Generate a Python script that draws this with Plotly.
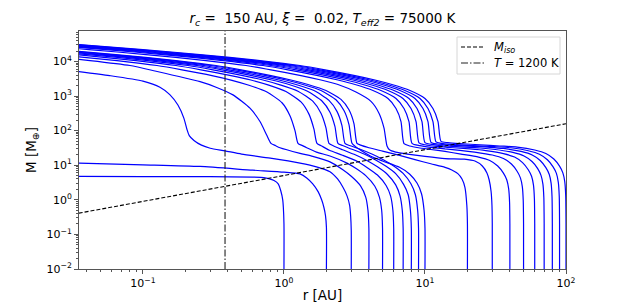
import plotly.graph_objects as go

# ---------------- data ----------------
# Tracks for starting radii r0 = 1..10, 20..100 AU: radius r [AU] and mass M [M_earth]
r_1 = [1.0, 1.0, 0.99, 0.98, 0.95, 0.91, 0.85, 0.78, 0.72, 0.6, 0.3, 0.1, 0.035]
m_1 = [0.01, 0.2, 0.6, 1.0, 1.8, 2.9, 3.6, 4.1, 4.4, 4.55, 4.65, 4.7, 4.75]

r_2 = [2.0, 2.0, 1.97, 1.92, 1.85, 1.75, 1.6, 1.45, 1.3, 1.0, 0.6, 0.254, 0.1, 0.035]
m_2 = [0.01, 0.16, 0.35, 0.6, 1.0, 1.7, 2.9, 4.3, 5.6, 6.3, 7.2, 9.2, 10.3, 11.5]

r_3 = [3.0, 3.0, 2.97, 2.92, 2.8, 2.62, 2.4, 2.12, 1.7, 1.3, 0.8, 0.5, 0.382, 0.3, 0.26, 0.23,
       0.213, 0.205, 0.195, 0.177, 0.155, 0.132, 0.1, 0.058, 0.035]
m_3 = [0.01, 0.13, 0.35, 0.7, 1.3, 2.3, 4.0, 6.5, 9.0, 11.5, 16, 21, 26, 31, 38, 52,
       72, 110, 230, 550, 1100, 1800, 2700, 3900, 5100]

r_4 = [4, 4, 3.94, 3.8, 3.5, 3.0, 2.6, 2.12, 1.6, 1.3, 0.937, 0.87, 0.809,
       0.754, 0.676, 0.574, 0.435, 0.33, 0.254, 0.1217, 0.0809, 0.0421, 0.0158]
m_4 = [0.01, 0.15, 0.5, 1.2, 2.5, 4.8, 7.5, 12.5, 18, 22, 32, 37, 43,
       75, 183, 445, 1080, 1800, 2600, 5300, 7620, 10600, 15800]

r_5 = [5, 5, 4.93, 4.75, 4.4, 3.8, 3.25, 2.8, 2.12, 1.7, 1.45, 1.35, 1.257,
       1.197, 1.103, 0.968, 0.7576, 0.5648, 0.4277, 0.3085, 0.189, 0.1257, 0.0654, 0.0245]
m_5 = [0.01, 0.15, 0.5, 1.2, 2.5, 5, 8, 11.5, 18.5, 24, 32, 37, 43,
       100, 270, 640, 1300, 2050, 2850, 3900, 5720, 7620, 10600, 15800]

r_6 = [6, 6, 5.92, 5.7, 5.3, 4.6, 3.9, 3.3, 2.6, 2.1, 1.85, 1.714,
       1.632, 1.504, 1.32, 1.033, 0.770, 0.5834, 0.421, 0.2578, 0.1714, 0.0892, 0.03348]
m_6 = [0.01, 0.15, 0.5, 1.3, 2.6, 5.2, 8.5, 13, 19.5, 27, 36, 43,
       110, 300, 680, 1350, 2100, 2900, 3900, 5720, 7620, 10600, 15800]

r_7 = [7, 7, 6.9, 6.65, 6.2, 5.4, 4.6, 3.9, 3.2, 2.6, 2.25, 2.085,
       1.986, 1.83, 1.606, 1.257, 0.937, 0.7098, 0.512, 0.3135, 0.2085, 0.1085, 0.0407, 0.01606]
m_7 = [0.01, 0.15, 0.5, 1.3, 2.7, 5.5, 9, 13.5, 20, 28, 36, 43,
       120, 320, 700, 1380, 2100, 2900, 3900, 5720, 7620, 10600, 15800, 22100]

r_8 = [8, 8, 7.88, 7.6, 7.05, 6.2, 5.3, 4.5, 3.7, 3.0, 2.6, 2.415,
       2.30, 2.12, 1.86, 1.456, 1.085, 0.822, 0.593, 0.3633, 0.2415, 0.1257, 0.0472, 0.0186]
m_8 = [0.01, 0.15, 0.5, 1.4, 2.8, 5.7, 9.3, 14, 21, 29.5, 37, 43,
       130, 340, 720, 1400, 2150, 2900, 3900, 5720, 7620, 10600, 15800, 22100]

r_9 = [9, 9, 8.87, 8.55, 7.95, 7.0, 6.0, 5.1, 4.2, 3.4, 2.92, 2.708,
       2.578, 2.376, 2.085, 1.632, 1.216, 0.9216, 0.6648, 0.4074, 0.2708, 0.1409, 0.0529, 0.02085]
m_9 = [0.01, 0.15, 0.5, 1.4, 2.9, 5.8, 9.5, 14.2, 21, 30, 37, 43,
       140, 360, 750, 1443, 2150, 2900, 3900, 5720, 7620, 10600, 15800, 22100]

r_10 = [10, 10, 9.85, 9.45, 8.8, 7.8, 6.6, 5.0, 4.1, 3.5, 3.2, 3.036,
        2.891, 2.664, 2.338, 1.83, 1.364, 1.033, 0.7454, 0.4566, 0.3036, 0.158, 0.0593, 0.02337]
m_10 = [0.01, 0.15, 0.5, 1.5, 3.0, 5.5, 8.7, 13.3, 18.5, 27, 35, 43,
        150, 380, 780, 1443, 2150, 2900, 3900, 5720, 7620, 10600, 15800, 22100]

r_20 = [20, 20, 19.8, 19.2, 18.3, 17.1, 15.5, 13.87, 11, 8.5, 6.5, 5.0, 4.0, 3.5, 3.294,
        3.136, 2.891, 2.537, 1.986, 1.48, 1.121, 0.809, 0.4955, 0.3295, 0.1714, 0.0643, 0.02537]
m_20 = [0.01, 0.2, 0.7, 2.3, 4.0, 5.7, 7.3, 8.7, 11, 14.5, 19.5, 25.5, 32, 38, 43,
        160, 400, 800, 1443, 2150, 2900, 3900, 5720, 7620, 10600, 15800, 22100]

r_30 = [30, 30, 29.85, 29.4, 28.5, 27.5, 25.5, 22.6, 19, 13.87, 10, 7.5, 6.2, 5.6, 5.38,
        5.118, 4.718, 4.14, 3.24, 2.415, 1.83, 1.32, 0.809, 0.5377, 0.2797, 0.105, 0.0414, 0.01456]
m_30 = [0.01, 0.2, 0.7, 1.8, 3.8, 6.0, 9.5, 13.2, 15, 15.6, 18, 21, 24, 28, 36,
        120, 320, 700, 1300, 2150, 2900, 3900, 5720, 7620, 10600, 15800, 22100, 30800]

r_40 = [40, 40, 39.8, 39.2, 38, 36, 32.8, 28.8, 24, 18, 13.87, 11, 9, 7.8, 7.1,
        6.76, 6.23, 5.465, 4.277, 3.19, 2.415, 1.742, 1.067, 0.7098, 0.3693, 0.1386, 0.0546, 0.0192]
m_40 = [0.01, 0.2, 0.84, 2.1, 3.8, 5.9, 9.5, 13.7, 17.2, 21, 25, 28.5, 32, 36, 42,
        183, 436, 848, 1443, 2150, 2900, 3900, 5720, 7620, 10600, 15800, 22100, 30800]

r_50 = [50, 50, 49.75, 49, 47.5, 45, 41, 36, 30, 22.5, 17.7, 13.87, 11, 9.2, 8.09,
        7.70, 7.10, 6.23, 4.875, 3.634, 2.753, 1.986, 1.216, 0.809, 0.421, 0.158, 0.0623, 0.0219]
m_50 = [0.01, 0.2, 0.96, 2.4, 4.3, 6.7, 10.8, 15.6, 19.7, 24, 27, 29.5, 33, 37, 43,
        183, 436, 848, 1443, 2150, 2900, 3900, 5720, 7620, 10600, 15800, 22100, 30800]

r_60 = [60, 60, 59.7, 58.8, 57, 54, 49.2, 43.2, 36, 27, 20.85, 15.04, 12, 10, 9.07,
        8.64, 7.96, 6.98, 5.465, 4.07, 3.085, 2.226, 1.364, 0.907, 0.472, 0.177, 0.0698, 0.0245]
m_60 = [0.01, 0.2, 1.06, 2.65, 4.8, 7.4, 11.9, 17.2, 21.7, 26.5, 29.5, 32.5, 35, 39, 44,
        183, 436, 848, 1443, 2150, 2900, 3900, 5720, 7620, 10600, 15800, 22100, 30800]

r_70 = [70, 70, 69.65, 68.6, 66.5, 63, 57.4, 50.4, 42, 31.5, 24.55, 17.71, 13.87, 11.5, 10.0,
        9.52, 8.78, 7.70, 6.03, 4.49, 3.40, 2.455, 1.504, 1.0, 0.5205, 0.1954, 0.077, 0.0271]
m_70 = [0.01, 0.2, 1.14, 2.85, 5.1, 8.0, 12.8, 18.5, 23.4, 28.5, 31.5, 34, 36, 39.5, 45,
        183, 436, 848, 1443, 2150, 2900, 3900, 5720, 7620, 10600, 15800, 22100, 30800]

r_80 = [80, 80, 79.6, 78.4, 76, 72, 65.6, 57.6, 48, 36, 28.9, 20.85, 15.04, 12.3, 11.03,
        10.5, 9.68, 8.49, 6.65, 4.955, 3.754, 2.708, 1.659, 1.103, 0.574, 0.2154, 0.0849, 0.0299]
m_80 = [0.01, 0.2, 1.22, 3.05, 5.5, 8.5, 13.7, 19.8, 25, 30.5, 33, 35.5, 38, 41, 46,
        183, 436, 848, 1443, 2150, 2900, 3900, 5720, 7620, 10600, 15800, 22100, 30800]

r_90 = [90, 90, 89.55, 88.2, 85.5, 81, 73.8, 64.8, 54, 40.5, 31, 22, 15.04, 13, 11.97,
        11.39, 10.5, 9.22, 7.21, 5.38, 4.07, 2.94, 1.80, 1.197, 0.6225, 0.2338, 0.0921, 0.0324]
m_90 = [0.01, 0.2, 1.28, 3.2, 5.8, 9.0, 14.4, 20.8, 26.2, 32, 34.5, 37, 40, 43, 47,
        183, 436, 848, 1443, 2150, 2900, 3900, 5720, 7620, 10600, 15800, 22100, 30800]

r_100 = [100, 100, 99.5, 98, 95, 90, 82, 72, 60, 45, 34, 24.55, 17.71, 14.5, 12.99,
         12.37, 11.39, 10.0, 7.83, 5.83, 4.42, 3.19, 1.953, 1.299, 0.676, 0.2537, 0.1, 0.0352]
m_100 = [0.01, 0.2, 1.34, 3.35, 6.0, 9.4, 15.1, 21.8, 27.5, 33.5, 36, 39, 42, 45, 49,
         183, 436, 848, 1443, 2150, 2900, 3900, 5720, 7620, 10600, 15800, 22100, 30800]

tracks_r = [r_1, r_2, r_3, r_4, r_5, r_6, r_7, r_8, r_9, r_10,
            r_20, r_30, r_40, r_50, r_60, r_70, r_80, r_90, r_100]
tracks_m = [m_1, m_2, m_3, m_4, m_5, m_6, m_7, m_8, m_9, m_10,
            m_20, m_30, m_40, m_50, m_60, m_70, m_80, m_90, m_100]

# isolation mass line end points
iso_r = [0.035, 100]
iso_m = [0.41, 158]

# T = 1200 K radius
t_r = [0.382, 0.382]
t_m = [0.01, 1e5]

title_text = ("<i>r<sub>c</sub></i> =\u00a0 150 AU, <i>\u03be</i> =\u00a0 0.02, "
              "<i>T<sub>eff2</sub></i> = 75000 K")
legend_labels = ["<i>M<sub>iso</sub></i>", "<i>T</i> = 1200 K"]

x_tickvals = [0.1, 1, 10, 100]
x_ticktext = ["10<sup>\u22121</sup>", "10<sup>0</sup>", "10<sup>1</sup>", "10<sup>2</sup>"]
y_tickvals = [1e-2, 1e-1, 1, 10, 100, 1000, 1e4]
y_ticktext = ["10<sup>\u22122</sup>", "10<sup>\u22121</sup>", "10<sup>0</sup>", "10<sup>1</sup>",
              "10<sup>2</sup>", "10<sup>3</sup>", "10<sup>4</sup>"]

x_minor = [m * 10.0 ** e for e in range(-2, 2) for m in range(2, 10)]
y_minor = [m * 10.0 ** e for e in range(-2, 5) for m in range(2, 10)]

FONT = "DejaVu Sans"
AX = "#555555"
ISO_DASH = "4px,2px"
T_DASH = "7px,2px,1.5px,2px"

# plot-area geometry (pixels) used for the legend placement
L, R, T, B = 79, 566, 31, 269
W, H = R - L, B - T
def px(xp):
    return (xp - L) / W
def py(yp):
    return (B - yp) / H

fig = go.Figure()
for rr, mm in zip(tracks_r, tracks_m):
    fig.add_trace(go.Scatter(x=rr, y=mm, mode="lines",
                             line=dict(color="#0000ff", width=1.2, shape="spline", smoothing=0.6),
                             showlegend=False, hoverinfo="skip"))

fig.add_trace(go.Scatter(x=iso_r, y=iso_m, mode="lines", name=legend_labels[0], showlegend=False,
                         line=dict(color="black", width=1.1, dash=ISO_DASH)))
fig.add_trace(go.Scatter(x=t_r, y=t_m, mode="lines", name=legend_labels[1], showlegend=False,
                         line=dict(color="#222222", width=1.1, dash=T_DASH)))

# legend drawn by hand (matplotlib-like compact box)
shapes = [
    dict(type="rect", xref="paper", yref="paper", x0=px(457), x1=px(560), y0=py(74), y1=py(37),
         line=dict(color="#d6d6d6", width=1), fillcolor="rgba(255,255,255,0.85)", layer="above"),
    dict(type="line", xref="paper", yref="paper", x0=px(461), x1=px(484), y0=py(47), y1=py(47),
         line=dict(color="black", width=1.1, dash=ISO_DASH), layer="above"),
    dict(type="line", xref="paper", yref="paper", x0=px(461), x1=px(484), y0=py(63), y1=py(63),
         line=dict(color="#222222", width=1.1, dash=T_DASH), layer="above"),
]
annotations = [
    dict(xref="paper", yref="paper", x=px(492), y=py(47), text=legend_labels[0], showarrow=False,
         xanchor="left", yanchor="middle", font=dict(family=FONT, size=11.5, color="black")),
    dict(xref="paper", yref="paper", x=px(492), y=py(63), text=legend_labels[1], showarrow=False,
         xanchor="left", yanchor="middle", font=dict(family=FONT, size=11.5, color="black")),
]

fig.update_layout(
    width=622, height=303, autosize=False,
    margin=dict(l=L, r=622 - R, t=T, b=303 - B, pad=0),
    paper_bgcolor="white", plot_bgcolor="white",
    font=dict(family=FONT, size=11, color="black"),
    title=dict(text=title_text, x=(L + W / 2) / 622, xanchor="center", y=1 - 18 / 303, yanchor="middle",
               font=dict(family=FONT, size=13.5, color="black")),
    showlegend=False,
    shapes=shapes, annotations=annotations,
)
fig.update_xaxes(type="log", range=[-1.4535, 2], showgrid=False, zeroline=False, automargin=False,
                 showline=True, mirror=True, linecolor=AX, linewidth=1,
                 ticks="outside", ticklen=4, tickcolor=AX, tickfont=dict(size=11),
                 tickmode="array", tickvals=x_tickvals, ticktext=x_ticktext,
                 minor=dict(tickmode="array", tickvals=x_minor, ticks="outside", ticklen=2,
                            tickcolor=AX, showgrid=False),
                 title=dict(text="r [AU]", standoff=2, font=dict(size=13.5)))
fig.update_yaxes(type="log", range=[-2, 4.88], showgrid=False, zeroline=False, automargin=False,
                 showline=True, mirror=True, linecolor=AX, linewidth=1,
                 ticks="outside", ticklen=4, tickcolor=AX, tickfont=dict(size=11),
                 tickmode="array", tickvals=y_tickvals, ticktext=y_ticktext,
                 minor=dict(tickmode="array", tickvals=y_minor, ticks="outside", ticklen=2,
                            tickcolor=AX, showgrid=False),
                 title=dict(text="M [M<sub>\u2295</sub>]", standoff=6, font=dict(size=13.5)))

fig.write_html("out.html", config={"displayModeBar": False},
               post_script="document.body.style.margin='0px';document.body.style.padding='0px';")
